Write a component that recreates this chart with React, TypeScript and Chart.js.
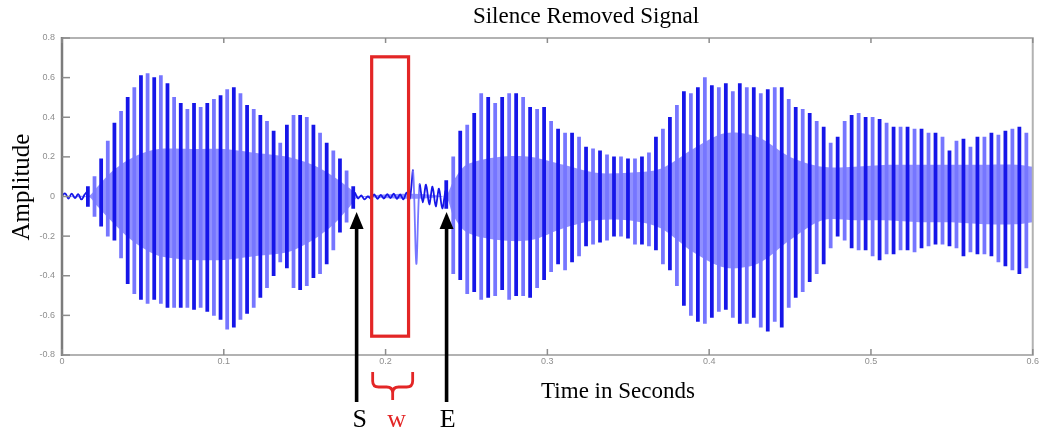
import React, { useEffect, useRef } from "react";
import { Chart, registerables } from "chart.js";

Chart.register(...registerables);

// ---- axis ticks ----
const xTickLabels = ["0", "0.1", "0.2", "0.3", "0.4", "0.5", "0.6"];
const yTickLabels = ["-0.8", "-0.6", "-0.4", "-0.2", "0", "0.2", "0.4", "0.6", "0.8"];

// ---- voiced segment A (before the silence) : one stroke per pitch pulse ----
const segAStart = 0.016;
const segAPeriod = 0.0041;
const segAHigh = [0.05, 0.1, 0.19, 0.28, 0.37, 0.43, 0.5, 0.55, 0.61, 0.62, 0.6, 0.61, 0.57, 0.5, 0.47, 0.44, 0.47, 0.45, 0.47, 0.49, 0.51, 0.54, 0.55, 0.52, 0.46, 0.44, 0.41, 0.38, 0.33, 0.27, 0.36, 0.41, 0.41, 0.4, 0.36, 0.32, 0.27, 0.23, 0.19, 0.13, 0.05];
const segALow = [-0.05, -0.1, -0.15, -0.2, -0.22, -0.31, -0.44, -0.49, -0.52, -0.54, -0.52, -0.54, -0.56, -0.56, -0.56, -0.56, -0.57, -0.56, -0.58, -0.6, -0.62, -0.67, -0.66, -0.62, -0.59, -0.56, -0.51, -0.46, -0.4, -0.33, -0.36, -0.46, -0.47, -0.45, -0.41, -0.39, -0.34, -0.27, -0.18, -0.13, -0.06];

// ---- voiced segment B (after the silence) ----
const segBStart = 0.2375;
const segBPeriod = 0.00432;
const segBHigh = [0.08, 0.2, 0.33, 0.36, 0.42, 0.52, 0.5, 0.47, 0.5, 0.52, 0.52, 0.5, 0.45, 0.44, 0.45, 0.38, 0.34, 0.32, 0.32, 0.3, 0.25, 0.24, 0.23, 0.21, 0.2, 0.2, 0.19, 0.19, 0.2, 0.22, 0.3, 0.34, 0.4, 0.46, 0.53, 0.52, 0.55, 0.6, 0.56, 0.55, 0.57, 0.53, 0.57, 0.55, 0.55, 0.52, 0.54, 0.55, 0.55, 0.49, 0.45, 0.44, 0.42, 0.38, 0.35, 0.27, 0.3, 0.38, 0.41, 0.42, 0.4, 0.4, 0.39, 0.37, 0.35, 0.35, 0.35, 0.34, 0.34, 0.32, 0.32, 0.3, 0.23, 0.28, 0.29, 0.25, 0.3, 0.3, 0.32, 0.31, 0.33, 0.34, 0.35, 0.32];
const segBLow = [-0.06, -0.39, -0.42, -0.49, -0.48, -0.52, -0.51, -0.5, -0.47, -0.52, -0.5, -0.5, -0.51, -0.46, -0.42, -0.38, -0.34, -0.37, -0.33, -0.3, -0.25, -0.24, -0.23, -0.22, -0.2, -0.2, -0.21, -0.24, -0.24, -0.25, -0.27, -0.34, -0.37, -0.45, -0.55, -0.6, -0.63, -0.64, -0.61, -0.58, -0.57, -0.61, -0.64, -0.64, -0.61, -0.66, -0.68, -0.63, -0.66, -0.56, -0.51, -0.48, -0.43, -0.39, -0.34, -0.26, -0.2, -0.22, -0.26, -0.27, -0.27, -0.3, -0.32, -0.29, -0.29, -0.27, -0.27, -0.28, -0.26, -0.25, -0.24, -0.24, -0.25, -0.26, -0.3, -0.28, -0.29, -0.29, -0.3, -0.33, -0.35, -0.37, -0.39, -0.36];

// ---- low-level (silent / noisy) samples ----
const quietStep = 0.002;
const quietAStart = 0;
const quietAValues = [0.005, 0.015, -0.01, 0.015, -0.008, 0.012, -0.015, 0.01, 0.03];
const quietBStart = 0.181;
const quietBValues = [0.02, -0.01, 0.005, -0.015, 0.0, -0.01, 0.01, -0.012, 0.008, -0.01, 0.012, -0.008, 0.015, -0.012, 0.01, -0.015, 0.02, -0.01, 0.13, -0.34, 0.06, -0.03, 0.06, -0.04, 0.05, -0.05, 0.04, -0.06, 0.03];

// ---- dense inner band of the waveform ----
const bandTimes = [0, 0.016, 0.022, 0.03, 0.04, 0.05, 0.06, 0.08, 0.1, 0.12, 0.14, 0.155, 0.168, 0.178, 0.184, 0.236, 0.242, 0.25, 0.27, 0.29, 0.31, 0.33, 0.35, 0.37, 0.39, 0.41, 0.43, 0.45, 0.47, 0.49, 0.51, 0.53, 0.55, 0.57, 0.59, 0.6];
const bandHigh = [0, 0, 0.05, 0.12, 0.18, 0.22, 0.24, 0.24, 0.24, 0.22, 0.2, 0.16, 0.1, 0.04, 0, 0, 0.08, 0.16, 0.2, 0.2, 0.16, 0.12, 0.12, 0.14, 0.24, 0.32, 0.3, 0.2, 0.15, 0.15, 0.16, 0.16, 0.16, 0.16, 0.16, 0.15];
const bandLow = [0, 0, -0.05, -0.12, -0.2, -0.26, -0.3, -0.32, -0.32, -0.3, -0.28, -0.22, -0.14, -0.05, 0, 0, -0.1, -0.18, -0.22, -0.22, -0.16, -0.12, -0.12, -0.16, -0.28, -0.36, -0.34, -0.22, -0.12, -0.12, -0.12, -0.13, -0.13, -0.14, -0.14, -0.13];

// ---- annotations (in data units) ----
const windowStart = 0.1914;
const windowEnd = 0.2142;
const windowTop = 0.705;
const windowBottom = -0.705;
const markS = 0.1821;
const markE = 0.2377;
const arrowTip = -0.078;

const DARK = "#1616e8";
const LIGHT = "#7676ff";
const BAND = "rgba(132,132,255,0.9)";
const RED = "#e32626";

function strokes(start: number, period: number, hi: number[], lo: number[]) {
  return hi.map((h, i) => ({ x: start + i * period, y: [lo[i], h] }));
}
function samples(start: number, step: number, vals: number[]) {
  return vals.map((v, i) => ({ x: start + i * step, y: v }));
}

const overlay = {
  id: "overlay",
  afterDraw(chart: any) {
    const ctx = chart.ctx as CanvasRenderingContext2D;
    const { left, right, top, bottom } = chart.chartArea;
    const xs = chart.scales.x;
    const ys = chart.scales.y;
    const line = (x1: number, y1: number, x2: number, y2: number) => {
      ctx.beginPath();
      ctx.moveTo(x1, y1);
      ctx.lineTo(x2, y2);
      ctx.stroke();
    };
    ctx.save();
    // frame
    ctx.strokeStyle = "#b2b2b2";
    ctx.lineWidth = 2;
    ctx.strokeRect(left, top, right - left, bottom - top);
    ctx.strokeStyle = "#7c7c7c";
    ctx.lineWidth = 2.5;
    line(left, top - 1, left, bottom + 1);
    // tick marks (inward)
    ctx.strokeStyle = "#8c8c8c";
    ctx.lineWidth = 1.5;
    ys.ticks.forEach((t: any) => {
      const y = ys.getPixelForValue(t.value);
      line(left, y, left + 8, y);
    });
    xs.ticks.forEach((t: any) => {
      const x = xs.getPixelForValue(t.value);
      line(x, bottom, x, bottom - 6);
      line(x, top, x, top + 5);
    });

    // texts
    ctx.fillStyle = "#000";
    ctx.textAlign = "center";
    ctx.textBaseline = "alphabetic";
    ctx.font = '23px "Liberation Serif"';
    ctx.fillText("Silence Removed Signal", 586, 23);
    ctx.fillText("Time in Seconds", 618, 398);
    ctx.save();
    ctx.translate(29, 187);
    ctx.rotate(-Math.PI / 2);
    ctx.font = '25px "Liberation Serif"';
    ctx.fillText("Amplitude", 0, 0);
    ctx.restore();

    // red window
    const wx1 = xs.getPixelForValue(windowStart);
    const wx2 = xs.getPixelForValue(windowEnd);
    const wy1 = ys.getPixelForValue(windowTop);
    const wy2 = ys.getPixelForValue(windowBottom);
    ctx.strokeStyle = RED;
    ctx.lineWidth = 3.2;
    ctx.strokeRect(wx1, wy1, wx2 - wx1, wy2 - wy1);

    // brace under window
    const bl = wx1 + 1;
    const br = wx1 + 41;
    const bc = (bl + br) / 2;
    ctx.lineWidth = 2.8;
    ctx.beginPath();
    ctx.moveTo(bl, 372);
    ctx.lineTo(bl, 381);
    ctx.quadraticCurveTo(bl, 387, bl + 6, 387);
    ctx.lineTo(bc - 6, 387);
    ctx.quadraticCurveTo(bc, 387, bc, 393);
    ctx.lineTo(bc, 400);
    ctx.moveTo(bc, 393);
    ctx.quadraticCurveTo(bc, 387, bc + 6, 387);
    ctx.lineTo(br - 6, 387);
    ctx.quadraticCurveTo(br, 387, br, 381);
    ctx.lineTo(br, 372);
    ctx.stroke();

    // arrows
    const arrow = (t: number) => {
      const x = xs.getPixelForValue(t);
      const tip = ys.getPixelForValue(arrowTip);
      ctx.strokeStyle = "#000";
      ctx.fillStyle = "#000";
      ctx.lineWidth = 3.6;
      line(x, 402, x, tip + 12);
      ctx.beginPath();
      ctx.moveTo(x, tip);
      ctx.lineTo(x - 7, tip + 17);
      ctx.lineTo(x + 7, tip + 17);
      ctx.closePath();
      ctx.fill();
      return x;
    };
    const sx = arrow(markS);
    const ex = arrow(markE);

    ctx.font = '26px "Liberation Serif"';
    ctx.fillStyle = "#000";
    ctx.fillText("S", sx + 3, 427);
    ctx.fillText("E", ex + 1, 427);
    ctx.fillStyle = RED;
    ctx.fillText("w", bc + 4, 427);
    ctx.restore();
  },
};

export default function App() {
  const ref = useRef<HTMLCanvasElement | null>(null);
  useEffect(() => {
    if (!ref.current) return;
    const tickFont = { family: '"Liberation Sans", Arial, sans-serif', size: 9 };
    const barCommon = {
      type: "bar" as const,
      grouped: false,
      barThickness: 3.1,
      borderWidth: 0,
      order: 1,
      backgroundColor: (c: any) => (c.dataIndex % 2 ? LIGHT : DARK),
    };
    const chart = new Chart(ref.current, {
      type: "bar",
      data: {
        datasets: [
          {
            type: "line",
            data: bandTimes.map((t, i) => ({ x: t, y: bandHigh[i] })) as any,
            fill: "+1",
            backgroundColor: BAND,
            borderWidth: 0,
            pointRadius: 0,
            tension: 0.3,
            order: 10,
          } as any,
          {
            type: "line",
            data: bandTimes.map((t, i) => ({ x: t, y: bandLow[i] })) as any,
            fill: false,
            borderWidth: 0,
            pointRadius: 0,
            tension: 0.3,
            order: 11,
          } as any,
          { ...barCommon, data: strokes(segAStart, segAPeriod, segAHigh, segALow) as any } as any,
          { ...barCommon, data: strokes(segBStart, segBPeriod, segBHigh, segBLow) as any } as any,
          {
            type: "line",
            data: samples(quietAStart, quietStep, quietAValues) as any,
            borderColor: DARK,
            borderWidth: 1.8,
            pointRadius: 0,
            tension: 0.4,
            fill: false,
            order: 0,
          } as any,
          {
            type: "line",
            data: samples(quietBStart, quietStep, quietBValues) as any,
            borderColor: DARK,
            borderWidth: 1.8,
            pointRadius: 0,
            tension: 0.3,
            fill: false,
            order: 0,
            segment: {
              borderColor: (c: any) => (c.p0DataIndex === 18 || c.p0DataIndex === 19 ? LIGHT : DARK),
            },
          } as any,
        ],
      },
      options: {
        responsive: false,
        animation: false,
        events: [],
        layout: { padding: { left: 0, right: 5, top: 38, bottom: 0 } },
        plugins: { legend: { display: false }, tooltip: { enabled: false }, title: { display: false } },
        scales: {
          x: {
            type: "linear",
            min: 0,
            max: 0.6,
            offset: false,
            grid: { display: false, drawTicks: false, offset: false },
            border: { display: false },
            ticks: {
              stepSize: 0.1,
              autoSkip: false,
              maxRotation: 0,
              padding: 1,
              color: "#8e8e8e",
              font: tickFont,
              callback: (v: any) => xTickLabels[Math.round(Number(v) * 10)],
            },
            afterFit: (s: any) => {
              s.height = 77;
            },
          },
          y: {
            type: "linear",
            min: -0.8,
            max: 0.8,
            grid: { display: false, drawTicks: false },
            border: { display: false },
            ticks: {
              stepSize: 0.2,
              autoSkip: false,
              padding: 7,
              color: "#8e8e8e",
              font: tickFont,
              callback: (v: any) => yTickLabels[Math.round((Number(v) + 0.8) / 0.2)],
            },
            afterFit: (s: any) => {
              s.width = 62;
            },
          },
        },
      },
      plugins: [overlay],
    });
    return () => chart.destroy();
  }, []);
  return (
    <div style={{ position: "absolute", left: 0, top: 0, width: 1040, height: 432, background: "#fff" }}>
      <canvas ref={ref} width={1040} height={432} style={{ display: "block" }} />
    </div>
  );
}
